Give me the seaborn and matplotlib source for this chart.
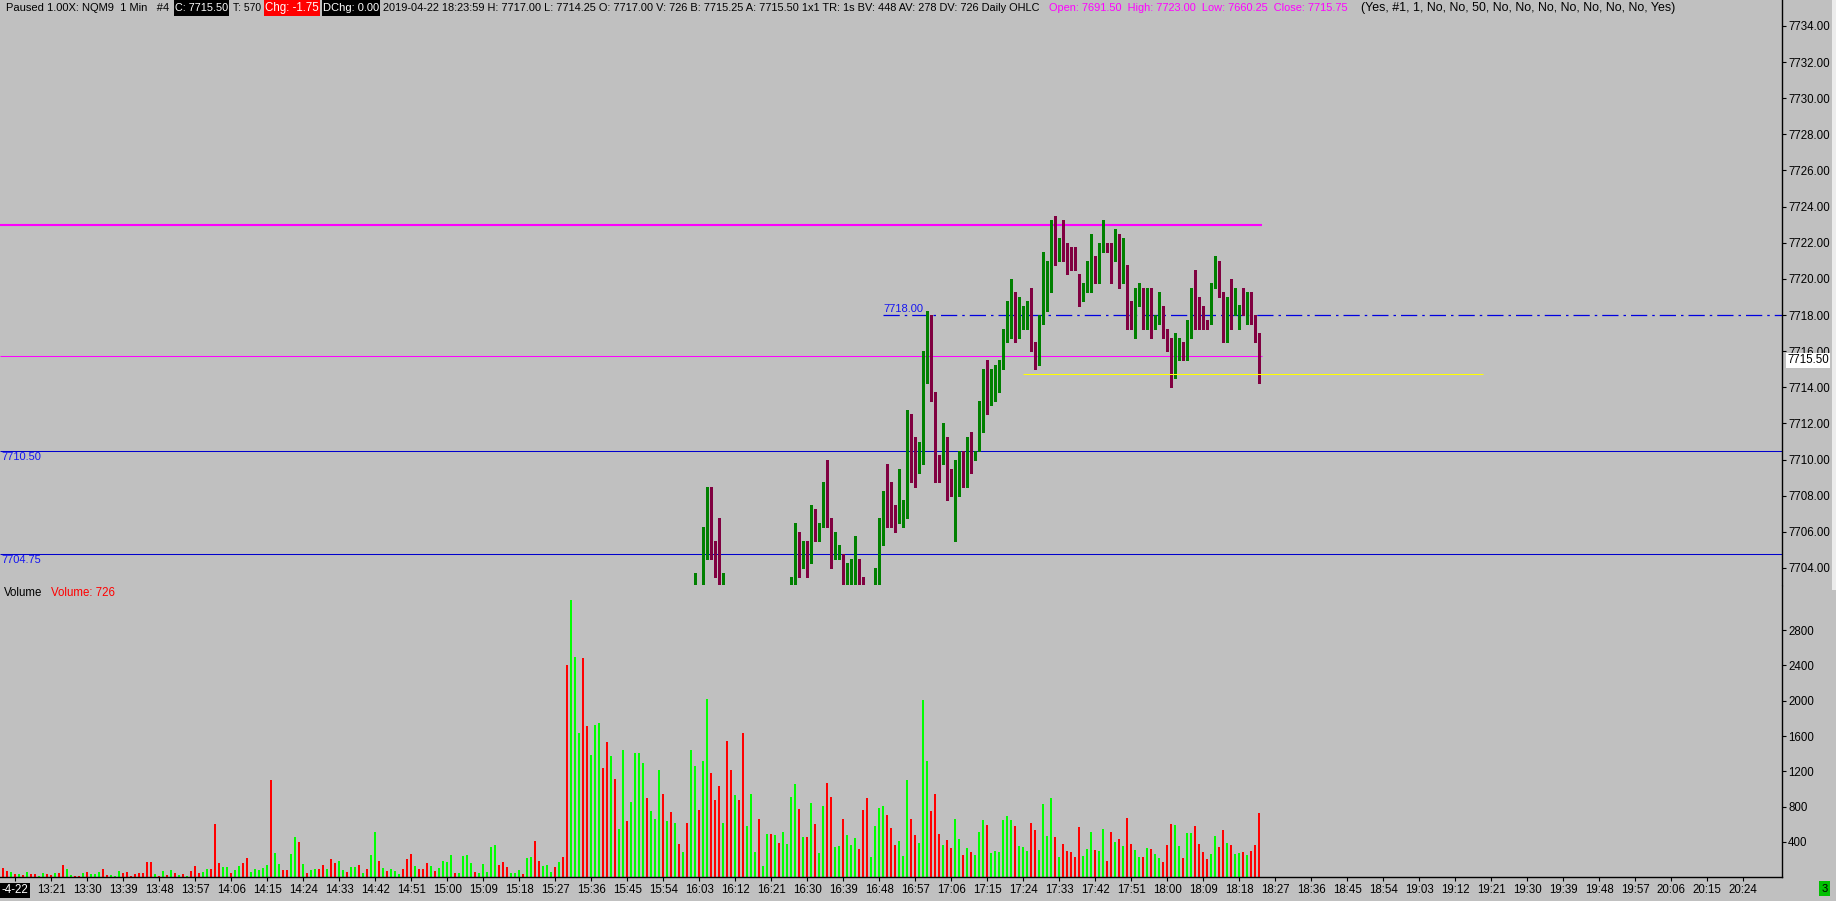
import numpy as np
import pandas as pd
import matplotlib
matplotlib.use("Agg")
import matplotlib.pyplot as plt
import seaborn as sns
from matplotlib.patches import Rectangle

nan = float("nan")

# ---------------- data ----------------
first_bar_time = "13:09"          # one bar per minute, 13:09 ... 18:23
volume = [
    110, 76, 64, 42, 42, 30, 64, 42, 42, 19,
    53, 42, 30, 53, 53, 144, 98, 30, 19, 19,
    53, 64, 42, 42, 64, 98, 30, 30, 19, 76,
    53, 64, 19, 42, 53, 53, 178, 178, 42, 19,
    76, 30, 87, 53, 30, 42, 19, 76, 132, 53,
    64, 98, 98, 609, 166, 121, 121, 53, 87, 132,
    166, 223, 64, 98, 87, 110, 144, 1108, 280, 155,
    87, 87, 268, 461, 404, 155, 53, 87, 98, 98,
    144, 98, 212, 166, 189, 87, 64, 121, 121, 144,
    53, 98, 257, 518, 189, 110, 76, 98, 76, 42,
    98, 212, 268, 132, 98, 98, 166, 132, 76, 110,
    189, 178, 257, 53, 53, 246, 257, 166, 64, 53,
    155, 64, 348, 370, 144, 178, 121, 53, 53, 87,
    42, 223, 234, 416, 189,
    129, 140, 60, 117, 174, 231, 2408, 3145, 2499, 1637,
    2487, 1716, 1387, 1727, 1750, 1240, 1535, 1376, 1115, 548,
    1444, 639, 854, 1410, 1410, 1297, 900, 752, 662, 1217,
    945, 639, 741, 616, 378, 287, 616, 1444, 1263, 764,
    1319, 2022, 1183, 877, 1036, 616, 1546, 1217, 934, 877,
    1637, 582, 945, 287, 662, 129, 491, 491, 480, 389,
    514, 378, 911, 1058, 775, 457, 457, 843, 605, 276,
    809, 1070, 911, 344, 355, 662, 480, 367, 446, 321,
    764, 900, 231, 582, 786, 809, 707, 559, 367, 412,
    242, 1104, 662, 480, 389, 2011, 1319, 752, 945, 491,
    367, 423, 333, 662, 435, 253, 333, 287, 253, 514,
    650, 593, 276, 299, 287, 650, 696, 650, 582, 355,
    344, 299, 616, 537, 310, 832, 469, 900, 457, 231,
    378, 299, 287, 231, 571, 242, 321, 514, 310, 299,
    548, 185, 514, 401, 435, 355, 673, 378, 310, 231,
    231, 333, 321, 265, 219, 174, 367, 605, 593, 355,
    219, 503, 503, 582, 378, 287, 208, 265, 469, 344,
    537, 389, 367, 265, 276, 287, 253, 299, 367, 726,
]
# u = up bar, d = down bar (one letter per minute)
bar_direction = list(
    "ddudududdu" "uddudduudd" "uduuudduuu" "ddddddddud" "ududududdd"
    "uuddduuduu" "dduuuuuduu" "dduududuud" "dudduuduud" "uduududuuu"
    "dddudddudu" "uuuduuuudu" "uuuuddduuu" "duudd"
    "uuududduuu" "dduuuddudu" "uduuuuduuu" "dudududuud" "uuddduddud"
    "duuuduudud" "uuuudududu" "udduuduuud" "dduuuudddu"
    "uudduuuddd" "udduududuu" "uduuuuuudu" "uudduuuudu" "ddddduuudu"
    "uddududduu" "duduuddduu" "duudddduud" "duduududdd"
)

candle_first_time = "16:02"       # earlier candles lie below the visible price range
c_open = [
    7701.5, nan, 7702.5, 7706.25, 7708.0, 7705.25, 7704.25, 7701.75, nan, nan,
    nan, nan, nan, nan, nan, nan, nan, nan, nan, nan,
    nan, nan, nan, nan, 7702.5, 7703.25, 7705.5, 7704.25, 7704.5, 7704.25,
    7706.75, 7705.75, 7706.5, 7708.5, 7706.5, 7704.75, 7705.0, 7704.75, 7702.5, 7702.75,
    7703.25, 7704.25, 7703.5, nan, nan, 7702.5, 7703.25, 7706.75, 7708.0, 7707.5,
    7707.0, 7707.0, 7707.0, 7707.25, 7711.0, 7711.25, 7709.75, 7710.0, 7715.25, 7717.5,
    7713.5, 7709.75, 7709.75, 7710.75, 7708.25, 7707.75, 7710.0, 7709.75, 7709.5, 7710.5,
    7710.25, 7710.5, 7712.25, 7714.5, 7713.25, 7714.25, 7714.25, 7715.0, 7716.75, 7718.25,
    7718.25, 7716.75, 7717.75, 7718.25, 7718.75, 7716.5, 7715.5, 7718.0, 7720.0, 7720.0,
    7723.25, 7721.0, 7721.75, 7721.75, 7720.75, 7720.75, 7720.25, 7719.0, 7719.5, 7719.25,
    7720.75, 7720.25, 7721.5, 7721.75, 7721.75, 7721.0, 7721.5, 7720.0, 7720.25, 7718.5,
    7717.5, 7718.75, 7719.0, 7717.75, 7719.25, 7717.5, 7717.5, 7718.5, 7717.25, 7716.5,
    7714.75, 7715.5, 7716.25, 7716.25, 7717.0, 7719.25, 7718.5, 7718.0, 7717.5, 7717.5,
    7719.5, 7720.25, 7719.25, 7717.0, 7719.0, 7718.0, 7718.5, 7718.5, 7718.25, 7718.75,
    7717.75, 7717.0,
]
c_high = [
    7703.75, nan, 7706.25, 7708.5, 7708.5, 7705.5, 7706.75, 7703.75, nan, nan,
    nan, nan, nan, nan, nan, nan, nan, nan, nan, nan,
    nan, nan, nan, nan, 7703.5, 7706.5, 7706.0, 7705.5, 7705.5, 7707.5,
    7707.25, 7706.5, 7708.75, 7710.0, 7706.75, 7706.0, 7705.25, 7704.75, 7704.25, 7704.5,
    7705.75, 7704.5, 7703.5, nan, nan, 7704.0, 7706.75, 7708.25, 7709.75, 7708.75,
    7707.5, 7709.5, 7707.75, 7712.75, 7712.5, 7711.25, 7711.0, 7716.0, 7718.25, 7718.0,
    7713.75, 7710.25, 7712.0, 7711.25, 7709.5, 7710.0, 7710.5, 7710.5, 7711.25, 7711.5,
    7710.5, 7713.25, 7715.0, 7715.5, 7715.0, 7715.25, 7715.5, 7717.25, 7718.75, 7720.0,
    7719.25, 7719.0, 7718.5, 7718.75, 7719.5, 7716.5, 7718.0, 7721.5, 7721.0, 7723.25,
    7723.5, 7722.25, 7723.25, 7722.0, 7721.75, 7721.75, 7720.25, 7719.75, 7721.0, 7722.5,
    7721.25, 7722.0, 7723.25, 7722.0, 7722.0, 7722.75, 7722.5, 7722.25, 7720.75, 7718.75,
    7719.5, 7719.75, 7719.5, 7719.5, 7719.5, 7718.0, 7719.25, 7718.5, 7717.25, 7716.75,
    7717.0, 7716.75, 7716.5, 7717.75, 7719.5, 7720.5, 7719.0, 7718.5, 7717.75, 7719.75,
    7721.25, 7721.0, 7719.25, 7719.0, 7720.0, 7719.5, 7718.5, 7719.5, 7719.25, 7719.25,
    7718.0, 7717.0,
]
c_low = [
    7700.75, nan, 7702.0, 7704.5, 7704.5, 7703.5, 7702.0, 7701.0, nan, nan,
    nan, nan, nan, nan, nan, nan, nan, nan, nan, nan,
    nan, nan, nan, nan, 7702.0, 7703.0, 7703.5, 7704.0, 7703.5, 7704.25,
    7705.5, 7705.5, 7706.25, 7706.25, 7704.0, 7704.5, 7704.5, 7702.0, 7702.0, 7702.25,
    7702.75, 7702.75, 7702.0, nan, nan, 7702.25, 7703.0, 7705.25, 7706.25, 7706.25,
    7706.0, 7706.5, 7706.25, 7706.75, 7708.75, 7708.5, 7709.25, 7709.75, 7714.25, 7713.25,
    7708.75, 7708.75, 7709.75, 7707.75, 7708.0, 7705.5, 7708.0, 7708.5, 7708.5, 7709.25,
    7710.0, 7710.5, 7711.5, 7712.5, 7713.0, 7713.25, 7713.75, 7715.0, 7716.5, 7716.75,
    7716.5, 7716.75, 7717.25, 7717.25, 7716.0, 7715.0, 7715.25, 7717.5, 7718.25, 7719.25,
    7720.75, 7721.0, 7721.0, 7720.25, 7720.5, 7720.5, 7718.5, 7718.75, 7719.25, 7719.25,
    7719.75, 7719.75, 7721.5, 7721.5, 7719.75, 7721.0, 7719.5, 7719.75, 7717.25, 7717.25,
    7716.75, 7718.5, 7717.25, 7717.25, 7716.75, 7717.25, 7717.5, 7716.75, 7716.0, 7714.0,
    7714.5, 7715.5, 7715.5, 7715.5, 7716.75, 7717.25, 7717.25, 7717.25, 7717.25, 7717.5,
    7719.5, 7719.0, 7716.5, 7716.5, 7717.25, 7718.0, 7717.25, 7718.0, 7717.5, 7717.5,
    7716.5, 7714.25,
]
c_close = [
    7702.75, nan, 7706.25, 7708.25, 7705.0, 7704.25, 7702.5, 7702.5, nan, nan,
    nan, nan, nan, nan, nan, nan, nan, nan, nan, nan,
    nan, nan, nan, nan, 7703.5, 7705.25, 7704.25, 7704.5, 7704.0, 7707.0,
    7705.75, 7706.25, 7708.25, 7706.25, 7705.0, 7705.0, 7705.0, 7702.5, 7703.25, 7703.25,
    7704.25, 7703.5, 7702.25, nan, nan, 7703.25, 7706.75, 7708.0, 7707.5, 7707.0,
    7707.0, 7707.25, 7707.25, 7711.25, 7711.0, 7710.0, 7710.0, 7715.25, 7717.5, 7713.75,
    7709.75, 7709.5, 7710.5, 7708.25, 7708.0, 7710.0, 7710.0, 7709.25, 7710.75, 7710.25,
    7710.5, 7712.5, 7714.5, 7713.25, 7714.5, 7714.5, 7714.75, 7716.75, 7718.25, 7718.5,
    7716.75, 7718.0, 7718.5, 7718.5, 7716.75, 7715.75, 7718.0, 7720.25, 7720.25, 7723.25,
    7721.25, 7721.75, 7721.5, 7720.75, 7720.5, 7720.5, 7719.0, 7719.25, 7719.5, 7720.75,
    7720.25, 7721.75, 7722.0, 7721.75, 7721.0, 7721.75, 7720.0, 7720.5, 7718.75, 7717.5,
    7718.75, 7719.0, 7717.75, 7719.25, 7717.25, 7717.75, 7718.75, 7717.25, 7716.5, 7714.75,
    7716.0, 7716.0, 7716.0, 7717.25, 7719.25, 7718.5, 7718.0, 7717.75, 7717.5, 7719.75,
    7720.25, 7719.0, 7717.0, 7719.0, 7718.25, 7718.5, 7718.5, 7718.25, 7718.75, 7717.75,
    7717.25, 7715.5,
]

daily_high = 7723.00
daily_close = 7715.75
level_a = 7710.50
level_b = 7704.75
level_dash = 7718.00
level_yellow = 7714.75
last_price = 7715.50
last_volume = 726

price_ticks = list(range(7704, 7735, 2))
volume_ticks = [400, 800, 1200, 1600, 2000, 2400, 2800]
time_tick_first, time_tick_last, time_tick_step = "13:12", "20:24", 9
line_end_time = "18:23"
dash_start_time = "16:49"
yellow_start_time, yellow_end_time = "17:24", "19:19"

header_pieces = [
    ("Paused 1.00X: NQM9  1 Min   #4", "black", None, 5, 170),
    ("C: 7715.50", "white", "black", 174, 229),
    ("T: 570", "black", None, 232, 262),
    ("Chg: -1.75", "white", "#FF0000", 264, 320),
    ("DChg: 0.00", "white", "black", 322, 380),
    ("2019-04-22 18:23:59 H: 7717.00 L: 7714.25 O: 7717.00 V: 726 B: 7715.25 "
     "A: 7715.50 1x1 TR: 1s BV: 448 AV: 278 DV: 726 Daily OHLC", "black", None, 382, 1041),
    ("Open: 7691.50  High: 7723.00  Low: 7660.25  Close: 7715.75", "#FF00FF", None, 1048, 1349),
    ("(Yes, #1, 1, No, No, 50, No, No, No, No, No, No, No, Yes)", "black", None, 1360, 1677),
]

# ---------------- helpers ----------------
def to_min(s):
    h, m = s.split(":")
    return int(h) * 60 + int(m)

BG = "#C0C0C0"
UP_C, DN_C = "#008000", "#800040"
VUP, VDN = "#00FF00", "#FF0000"
W, H = 1836, 901
PX_PER_MIN = 4.0
X_REF_PX, X_REF_MIN = 555.3, to_min("15:27")
PRICE_PX = 18.07           # pixels per point
PRICE_REF_PX, PRICE_REF = 568.0, 7704.0
VOL_PER_PX = 11.33
PLOT_R = 1782
P_TOP, P_BOT = 0, 585
V_TOP, V_BOT = 586, 877.3

sns.set_theme(style="white")
plt.rcParams["font.family"] = ["Liberation Sans", "DejaVu Sans"]
plt.rcParams["axes.facecolor"] = BG
plt.rcParams["figure.facecolor"] = BG

fig = plt.figure(figsize=(W / 100, H / 100), dpi=100, facecolor=BG)
ax_p = fig.add_axes([0, 1 - P_BOT / H, PLOT_R / W, (P_BOT - P_TOP) / H])
ax_v = fig.add_axes([0, 1 - V_BOT / H, PLOT_R / W, (V_BOT - V_TOP) / H])

t_left = X_REF_MIN - X_REF_PX / PX_PER_MIN
t_right = X_REF_MIN + (PLOT_R - X_REF_PX) / PX_PER_MIN

# ---------------- volume pane ----------------
t0 = to_min(first_bar_time)
minutes = np.arange(len(volume)) + t0
df = pd.DataFrame({"t": minutes, "vol": volume, "dir": bar_direction})
sns.barplot(data=df, x="t", y="vol", hue="dir", palette={"u": VUP, "d": VDN},
            native_scale=True, width=0.5, dodge=False, saturation=1,
            errorbar=None, legend=False, linewidth=0, ax=ax_v)
for p in ax_v.patches:
    p.set_antialiased(False)
ax_v.set_xlim(t_left, t_right)
ax_v.set_ylim(0, (V_BOT - V_TOP) * VOL_PER_PX)
ax_v.set_xlabel("")
ax_v.set_ylabel("")
ax_v.set_facecolor(BG)

# ---------------- price pane ----------------
ct0 = to_min(candle_first_time)
cdf = pd.DataFrame({"t": np.arange(len(c_open)) + ct0, "o": c_open, "h": c_high,
                    "l": c_low, "c": c_close})
cdf["dir"] = [bar_direction[int(t - t0)] for t in cdf["t"]]
cdf = cdf.dropna()
ccol = [UP_C if d == "u" else DN_C for d in cdf["dir"]]
ax_p.vlines(cdf["t"], cdf["l"], cdf["h"], colors=ccol, linewidth=0.8, antialiased=False, zorder=3)
body_lo = np.minimum(cdf["o"], cdf["c"])
body_h = np.maximum(np.abs(cdf["c"] - cdf["o"]), 1.0 / PRICE_PX)
ax_p.bar(cdf["t"], body_h, bottom=body_lo, width=0.8, color=ccol, linewidth=0,
         antialiased=False, zorder=4)

p_bottom = PRICE_REF - (P_BOT - PRICE_REF_PX) / PRICE_PX
p_top = PRICE_REF + (PRICE_REF_PX - P_TOP) / PRICE_PX
ax_p.set_xlim(t_left, t_right)
ax_p.set_ylim(p_bottom, p_top)
ax_p.set_facecolor(BG)

t_end = to_min(line_end_time) + 0.7
ax_p.hlines(daily_high, t_left, t_end, color="#FF00FF", linewidth=1.5, zorder=2)
ax_p.hlines(daily_close, t_left, t_end, color="#FF00FF", linewidth=0.75, zorder=2)
ax_p.hlines([level_a, level_b], t_left, t_right, color="#0000CD", linewidth=0.75, zorder=2)
ax_p.hlines(level_dash, to_min(dash_start_time), t_right, color="#0000E0", linewidth=0.9,
            linestyles=(0, (13, 4, 2, 4)), zorder=2)
ax_p.hlines(level_yellow, to_min(yellow_start_time), to_min(yellow_end_time),
            color="#FFFF00", linewidth=0.75, zorder=5)

lab_kw = dict(fontsize=8, color="#1515F0", textcoords="offset pixels")
ax_p.annotate(f"{level_dash:.2f}", xy=(to_min(dash_start_time), level_dash),
              xytext=(0, 1), ha="left", va="bottom", **lab_kw)
for lv in (level_a, level_b):
    ax_p.annotate(f"{lv:.2f}", xy=(0, lv), xycoords=("axes fraction", "data"),
                  xytext=(1, -1), ha="left", va="top", **lab_kw)

# ---------------- axes styling ----------------
for ax in (ax_p, ax_v):
    for s in ("top", "left"):
        ax.spines[s].set_visible(False)
    ax.spines["right"].set_color("black")
    ax.spines["right"].set_linewidth(1.0)
    ax.yaxis.tick_right()
    ax.tick_params(axis="y", which="both", left=False, right=True, labelleft=False,
                   labelright=True, direction="out", length=3, width=0.8, pad=1.5,
                   labelsize=8.3, colors="black")
ax_p.spines["bottom"].set_visible(False)
ax_v.spines["bottom"].set_color("black")
ax_v.spines["bottom"].set_linewidth(1.0)

ax_p.set_yticks(price_ticks)
ax_p.set_yticklabels([f"{v:.2f}" for v in price_ticks])
ax_p.set_xticks([])

ax_v.set_yticks(volume_ticks)
ax_v.set_yticklabels([str(v) for v in volume_ticks])
tt = list(range(to_min(time_tick_first), to_min(time_tick_last) + 1, time_tick_step))
ax_v.set_xticks(tt)
ax_v.set_xticklabels(["-4-22"] + [f"{t // 60}:{t % 60:02d}" for t in tt[1:]])
ax_v.tick_params(axis="x", direction="out", length=3, width=0.8, pad=2, labelsize=8.3,
                 colors="black", bottom=True)
first_lab = ax_v.get_xticklabels()[0]
first_lab.set_color("white")
first_lab.set_bbox(dict(facecolor="black", edgecolor="none", pad=1.2))

# current price marker
ax_p.annotate(f"{last_price:.2f}", xy=(1, last_price), xycoords=("axes fraction", "data"),
              xytext=(5, 0), textcoords="offset pixels", ha="left", va="center",
              fontsize=8.3, color="black", annotation_clip=False, zorder=10,
              bbox=dict(facecolor="white", edgecolor="none", pad=1.0))

# volume study label
ax_v.annotate("Volume", xy=(0, 1), xycoords="axes fraction", xytext=(4, -7),
              textcoords="offset pixels", ha="left", va="center", fontsize=8.3, color="black")
ax_v.annotate(f"Volume: {last_volume}", xy=(0, 1), xycoords="axes fraction", xytext=(51, -7),
              textcoords="offset pixels", ha="left", va="center", fontsize=8.3, color="#FF0000")

# ---------------- header line ----------------
renderer = fig.canvas.get_renderer()
for s, col, box, x0, x1 in header_pieces:
    if box is not None:
        fig.patches.append(Rectangle((x0 / W, 1 - 15.5 / H), (x1 - x0) / W, 15.5 / H,
                                     transform=fig.transFigure, facecolor=box,
                                     edgecolor="none", zorder=6))
    txt = fig.text((x0 + 1) / W, 1 - 8 / H, s, color=col, fontsize=8, ha="left",
                   va="center", zorder=7)
    w = txt.get_window_extent(renderer).width
    target = (x1 - x0 - 2)
    if w > 0:
        txt.set_fontsize(min(9.0, max(6.5, 8 * target / w)))

# bottom-right status box and right edge strip
fig.text(1824.5 / W, 1 - 888.5 / H, "3", ha="center", va="center", fontsize=8, color="black",
         bbox=dict(facecolor="#00C000", edgecolor="none", boxstyle="square,pad=0.25"))
fig.patches.append(Rectangle((1832 / W, 1 - 590 / H), 4 / W, 590 / H,
                             transform=fig.transFigure, facecolor="#ECECEC",
                             edgecolor="none", zorder=1))

fig.savefig("out.png", dpi=100, facecolor=BG)
